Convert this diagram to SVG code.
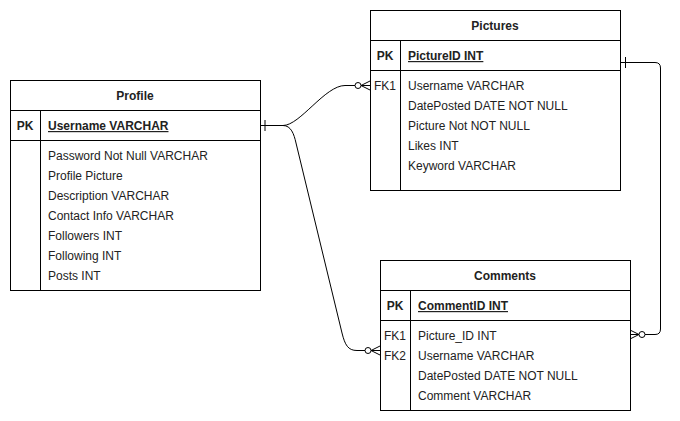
<svg xmlns="http://www.w3.org/2000/svg" width="680" height="421" viewBox="0 0 680 421">
<style>
.box{fill:#fff;stroke:#000;stroke-width:1}
.ln{fill:none;stroke:#000;stroke-width:1}
text{font-family:"Liberation Sans",Arial,sans-serif;font-size:12px;fill:#222}
.t{font-weight:bold;text-anchor:middle}
.k{font-weight:bold;text-anchor:middle}
.pk{font-weight:bold;text-decoration:underline}
.fk{text-anchor:middle}
.c{fill:none;stroke:#000;stroke-width:1}
.circ{fill:#fff;stroke:#000;stroke-width:1}
</style>
<rect width="680" height="421" fill="#fff"/>
<g id="connectors">
  <path class="c" d="M260.5,125.5 H283 C300,125.5 325,85.5 345,85.5 H355"/>
  <path class="c" d="M265,120 V131"/>
  <circle class="circ" cx="358" cy="85.5" r="3"/>
  <path class="c" d="M361,85.5 H370 M361,85.5 L370,81 M361,85.5 L370,90"/>
  <path class="c" d="M283,125.5 C291,125.5 294,134 296,143 L342,333 C345,345 348,350.5 357,350.5 H365"/>
  <circle class="circ" cx="368" cy="350.5" r="3"/>
  <path class="c" d="M371,350.5 H380 M371,350.5 L380,346 M371,350.5 L380,355"/>
  <path class="c" d="M620.5,62.5 H655 Q660.5,62.5 660.5,68 V329 Q660.5,334.5 655,334.5 H645"/>
  <path class="c" d="M625.5,57 V68"/>
  <circle class="circ" cx="642" cy="334.5" r="3"/>
  <path class="c" d="M639,334.5 H630 M639,334.5 L630,330 M639,334.5 L630,339"/>
</g>
<g id="profile">
  <rect class="box" x="10.5" y="80.5" width="250" height="210"/>
  <path class="ln" d="M10.5,110.5 H260.5 M10.5,140.5 H260.5 M40.5,110.5 V290.5"/>
  <text class="t" x="135" y="100">Profile</text>
  <text class="k" x="25" y="130">PK</text>
  <text class="pk" x="48" y="130">Username VARCHAR</text>
  <text x="48" y="160">Password Not Null VARCHAR</text>
  <text x="48" y="180">Profile Picture</text>
  <text x="48" y="200">Description VARCHAR</text>
  <text x="48" y="220">Contact Info VARCHAR</text>
  <text x="48" y="240">Followers INT</text>
  <text x="48" y="260">Following INT</text>
  <text x="48" y="280">Posts INT</text>
</g>
<g id="pictures">
  <rect class="box" x="370.5" y="10.5" width="250" height="180"/>
  <path class="ln" d="M370.5,40.5 H620.5 M370.5,70.5 H620.5 M400.5,40.5 V190.5"/>
  <text class="t" x="495" y="30">Pictures</text>
  <text class="k" x="385" y="60">PK</text>
  <text class="pk" x="408" y="60">PictureID INT</text>
  <text class="fk" x="385" y="90">FK1</text>
  <text x="408" y="90">Username VARCHAR</text>
  <text x="408" y="110">DatePosted DATE NOT NULL</text>
  <text x="408" y="130">Picture Not NOT NULL</text>
  <text x="408" y="150">Likes INT</text>
  <text x="408" y="170">Keyword VARCHAR</text>
</g>
<g id="comments">
  <rect class="box" x="380.5" y="260.5" width="250" height="150"/>
  <path class="ln" d="M380.5,290.5 H630.5 M380.5,320.5 H630.5 M410.5,290.5 V410.5"/>
  <text class="t" x="505" y="280">Comments</text>
  <text class="k" x="395" y="310">PK</text>
  <text class="pk" x="418" y="310">CommentID INT</text>
  <text class="fk" x="395" y="340">FK1</text>
  <text x="418" y="340">Picture_ID INT</text>
  <text class="fk" x="395" y="360">FK2</text>
  <text x="418" y="360">Username VARCHAR</text>
  <text x="418" y="380">DatePosted DATE NOT NULL</text>
  <text x="418" y="400">Comment VARCHAR</text>
</g>
</svg>
